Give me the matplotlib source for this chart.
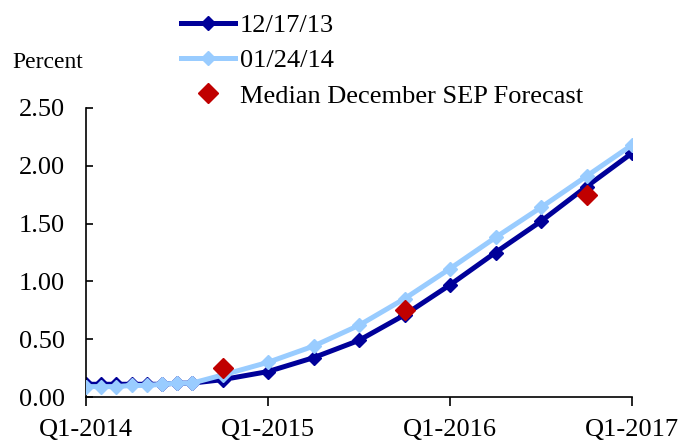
import matplotlib
matplotlib.use("Agg")
import matplotlib.pyplot as plt

# x positions in quarters since Q1-2014 (monthly for early 2014, then quarterly)
x_pos = [0, 1/3, 2/3, 1, 4/3, 5/3, 2, 7/3, 3, 4, 5, 6, 7, 8, 9, 10, 11, 12]
dec_17_13 = [0.11, 0.11, 0.11, 0.11, 0.11, 0.11, 0.12, 0.12, 0.15, 0.22, 0.34, 0.49,
             0.71, 0.97, 1.25, 1.52, 1.82, 2.11]
jan_24_14 = [0.09, 0.09, 0.09, 0.10, 0.10, 0.11, 0.12, 0.12, 0.19, 0.30, 0.44, 0.62,
             0.85, 1.11, 1.38, 1.64, 1.91, 2.18]
sep_x = [3, 7, 11]
sep_vals = [0.25, 0.75, 1.75]
tick_pos = [0, 4, 8, 12]
tick_labels = ["Q1-2014", "Q1-2015", "Q1-2016", "Q1-2017"]
y_ticks = [0.0, 0.5, 1.0, 1.5, 2.0, 2.5]

plt.rcParams['font.family'] = ['Liberation Serif', 'DejaVu Serif']

fig = plt.figure(figsize=(6.91, 4.41), dpi=100)
ax = fig.add_axes([86/691, 1-397/441, (632-86)/691, (397-108)/441])

l1, = ax.plot(x_pos, dec_17_13, color='#000099', lw=3.6, marker='D', ms=7,
              label='12/17/13', clip_on=True, zorder=2)
l2, = ax.plot(x_pos, jan_24_14, color='#99CCFF', lw=3.6, marker='D', ms=7,
              label='01/24/14', clip_on=True, zorder=3)
l3, = ax.plot(sep_x, sep_vals, ls='none', marker='D', ms=10, color='#C00000',
              label='Median December SEP Forecast', zorder=4)

ax.set_xlim(0, 12)
ax.set_ylim(0, 2.5)
ax.set_xticks(tick_pos)
ax.set_xticklabels(tick_labels)
ax.set_yticks(y_ticks)
ax.set_yticklabels([f"{v:.2f}" for v in y_ticks])
ax.tick_params(axis='x', direction='out', length=6.5, width=1.2, labelsize=19, pad=9)
ax.tick_params(axis='y', direction='in', length=5, width=1.2, labelsize=19, pad=15)
for s in ['top', 'right']:
    ax.spines[s].set_visible(False)
for s in ['left', 'bottom']:
    ax.spines[s].set_linewidth(1.2)

fig.text(12/691, 1-63/441, 'Percent', fontsize=17, va='center', ha='left')

fig.legend(handles=[l1, l2, l3], loc='upper left', bbox_to_anchor=(170/691, 1-3/441),
           frameon=False, fontsize=19, handlelength=2.05, handletextpad=0.2,
           labelspacing=0.45, borderaxespad=0)

fig.savefig('out.png', dpi=100)
